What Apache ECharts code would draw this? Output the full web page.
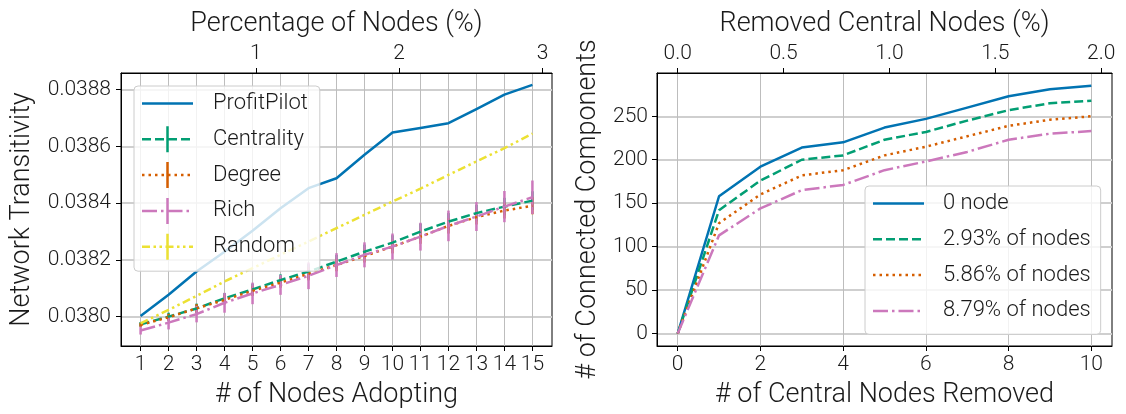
<!DOCTYPE html>
<html>
<head>
<meta charset="utf-8">
<script src="https://cdn.jsdelivr.net/npm/echarts@6/dist/echarts.min.js"></script>
<style>
  html, body { margin: 0; padding: 0; background: #fff; }
  #chart { width: 1126px; height: 414px; }
</style>
</head>
<body>
<div id="chart"></div>
<script>
// ---- Left panel: network transitivity vs. number of adopting nodes ----
const nodesAdopting = [1, 2, 3, 4, 5, 6, 7, 8, 9, 10, 11, 12, 13, 14, 15];
const profitPilot = [0.038002, 0.038077, 0.038159, 0.038229, 0.038303, 0.038382, 0.038453, 0.038488,
                     0.038571, 0.038649, 0.038665, 0.038682, 0.038732, 0.038783, 0.038817];
const centrality  = [0.037973, 0.038000, 0.038029, 0.038065, 0.038096, 0.038129, 0.038159, 0.038194,
                     0.038229, 0.038261, 0.038300, 0.038335, 0.038365, 0.038388, 0.038409];
const centralityErr = [0.000008, 0.000014, 0.000017, 0.000018, 0.000020, 0.000020, 0.000026, 0.000024,
                       0.000025, 0.000026, 0.000028, 0.000030, 0.000029, 0.000031, 0.000033];
const degree      = [0.037971, 0.037998, 0.038029, 0.038059, 0.038091, 0.038120, 0.038151, 0.038182,
                     0.038214, 0.038247, 0.038282, 0.038320, 0.038351, 0.038374, 0.038391];
const degreeErr   = [0.000007, 0.000012, 0.000015, 0.000016, 0.000018, 0.000018, 0.000023, 0.000022,
                     0.000023, 0.000024, 0.000025, 0.000027, 0.000026, 0.000028, 0.000030];
const rich        = [0.037951, 0.037979, 0.038009, 0.038049, 0.038082, 0.038112, 0.038144, 0.038182,
                     0.038218, 0.038247, 0.038282, 0.038320, 0.038353, 0.038388, 0.038421];
const richErr     = [0.000014, 0.000024, 0.000029, 0.000035, 0.000038, 0.000035, 0.000047, 0.000042,
                     0.000044, 0.000046, 0.000049, 0.000054, 0.000051, 0.000055, 0.000059];
const randomSel   = [0.037976, 0.038024, 0.038073, 0.038124, 0.038171, 0.038218, 0.038265, 0.038312,
                     0.038359, 0.038406, 0.038451, 0.038500, 0.038547, 0.038594, 0.038645];
const leftYTicks = [0.0380, 0.0382, 0.0384, 0.0386, 0.0388];
const leftTopTicks = [1, 2, 3];

// ---- Right panel: connected components vs. central nodes removed ----
const centralRemoved = [0, 1, 2, 3, 4, 5, 6, 7, 8, 9, 10];
const zeroNode = [0, 158, 192, 214, 220, 237, 247, 260, 273, 281, 285];
const pct293   = [0, 142, 176, 200, 205, 223, 232, 245, 257, 265, 268];
const pct586   = [0, 127, 160, 182, 188, 205, 215, 227, 239, 246, 250];
const pct879   = [0, 113, 144, 165, 171, 188, 198, 209, 223, 230, 233];
const rightYTicks = [0, 50, 100, 150, 200, 250];
const rightBottomTicks = [0, 2, 4, 6, 8, 10];
const rightTopTicks = [0, 0.5, 1.0, 1.5, 2.0];

const totalNodes = 512;   // share of the network per node, for the percentage axes

const C = { blue: '#0173b2', green: '#029e73', orange: '#d55e00', pink: '#cc78bc', yellow: '#ece133' };
const FONT = 'Roboto';
const TXT = '#1a1a1a';
const LW = 2.5;
const DASH = [9, 4];
const DOT = [2.5, 4];
const DASHDOT = [15, 4, 2.5, 4];
const DASHDOTDOT = [8, 3.5, 2.5, 3.5, 2.5, 3.5];

const pct = n => n * 100 / totalNodes;
const xL = [0.3, 15.7];
const xR = [-0.5, 10.5];

// Legend glyph: a dashed stroke built from small rectangles, with an optional error-bar tick.
const ICON_W = 51, BAR_H = 26;
function legendIcon(dash, withBar) {
  const y0 = withBar ? (BAR_H - LW) / 2 : 0;
  let d = '';
  if (!dash) {
    d += `M0,${y0}h${ICON_W}v${LW}h-${ICON_W}z`;
  } else {
    let x = 0, k = 0;
    while (x < ICON_W) {
      const len = Math.min(dash[k % dash.length], ICON_W - x);
      if (k % 2 === 0) d += `M${x.toFixed(2)},${y0}h${len.toFixed(2)}v${LW}h-${len.toFixed(2)}z`;
      x += len; k++;
    }
    // keep the glyph box the full icon width
    d += `M${ICON_W - 0.01},${y0}h0.01v${LW}h-0.01z`;
  }
  if (withBar) d += `M${(ICON_W - LW) / 2},0h${LW}v${BAR_H}h-${LW}z`;
  return 'path://' + d;
}

function axisLabelStyle(extra) {
  return Object.assign({ color: TXT, fontFamily: FONT, fontWeight: 300, fontSize: 21 }, extra);
}
function nameStyle() {
  return { color: TXT, fontFamily: FONT, fontWeight: 300, fontSize: 27 };
}
const frameLine = { show: true, onZero: false, lineStyle: { color: '#000', width: 1 } };
const tickOut = (vals) => ({ show: true, inside: false, length: 5, customValues: vals, lineStyle: { color: '#000', width: 1 } });
const vGrid = { show: true, lineStyle: { color: '#bdbdbd', width: 1 } };
const hGrid = { show: true, lineStyle: { color: '#cfcfcf', width: 1.8 } };

function lineSeries(name, xs, ys, color, dash, xi, yi, z) {
  return {
    type: 'line', name, xAxisIndex: xi, yAxisIndex: yi,
    data: xs.map((x, i) => [x, ys[i]]),
    symbol: 'none', showSymbol: false,
    lineStyle: { color, width: LW, type: dash || 'solid', cap: 'butt', join: 'round' },
    itemStyle: { color },
    z: z || 2, silent: true
  };
}
function errorBars(name, xs, ys, errs, color, z) {
  return {
    type: 'custom', name, xAxisIndex: 0, yAxisIndex: 0, silent: true, z: z,
    encode: { x: 0, y: [1, 2] },
    data: xs.map((x, i) => [x, ys[i] - errs[i], ys[i] + errs[i]]),
    renderItem: (params, api) => {
      const lo = api.coord([api.value(0), api.value(1)]);
      const hi = api.coord([api.value(0), api.value(2)]);
      return { type: 'line', shape: { x1: lo[0], y1: lo[1], x2: hi[0], y2: hi[1] },
               style: { stroke: color, lineWidth: LW } };
    }
  };
}

const legendBase = {
  orient: 'vertical', itemWidth: ICON_W, itemHeight: 31, itemGap: 4.8,
  symbolKeepAspect: true,
  backgroundColor: 'rgba(255,255,255,0.8)', borderColor: '#cccccc', borderWidth: 1, borderRadius: 4,
  textStyle: { color: TXT, fontFamily: FONT, fontWeight: 300, fontSize: 22, lineHeight: 31, padding: [0, 0, 0, 15] },
  itemStyle: { borderWidth: 0 },
  selectedMode: false
};

const option = {
  animation: false,
  backgroundColor: '#fff',
  grid: [
    { left: 121, top: 73, width: 431, height: 273, show: true, borderColor: '#000', borderWidth: 1, backgroundColor: 'transparent' },
    { left: 657, top: 73, width: 455, height: 273, show: true, borderColor: '#000', borderWidth: 1, backgroundColor: 'transparent' }
  ],
  xAxis: [
    { type: 'value', gridIndex: 0, position: 'bottom', min: xL[0], max: xL[1],
      name: '# of Nodes Adopting', nameLocation: 'middle', nameGap: 36, nameTextStyle: nameStyle(),
      axisLine: frameLine, axisTick: tickOut(nodesAdopting), splitLine: vGrid,
      axisLabel: axisLabelStyle({ margin: 8, customValues: nodesAdopting, formatter: v => String(Math.round(v)) }) },
    { type: 'value', gridIndex: 0, position: 'top', min: pct(xL[0]), max: pct(xL[1]),
      name: 'Percentage of Nodes (%)', nameLocation: 'middle', nameGap: 31, nameTextStyle: nameStyle(),
      axisLine: frameLine, axisTick: tickOut(leftTopTicks), splitLine: { show: false },
      axisLabel: axisLabelStyle({ margin: 9, customValues: leftTopTicks, formatter: v => String(Math.round(v)) }) },
    { type: 'value', gridIndex: 1, position: 'bottom', min: xR[0], max: xR[1],
      name: '# of Central Nodes Removed', nameLocation: 'middle', nameGap: 36, nameTextStyle: nameStyle(),
      axisLine: frameLine, axisTick: tickOut(rightBottomTicks), splitLine: vGrid,
      axisLabel: axisLabelStyle({ margin: 8, customValues: rightBottomTicks, formatter: v => String(Math.round(v)) }) },
    { type: 'value', gridIndex: 1, position: 'top', min: pct(xR[0]), max: pct(xR[1]),
      name: 'Removed Central Nodes (%)', nameLocation: 'middle', nameGap: 31, nameTextStyle: nameStyle(),
      axisLine: frameLine, axisTick: tickOut(rightTopTicks), splitLine: { show: false },
      axisLabel: axisLabelStyle({ margin: 9, customValues: rightTopTicks, formatter: v => v.toFixed(1) }) }
  ],
  yAxis: [
    { type: 'value', gridIndex: 0, min: 0.0378966, max: 0.038859,
      name: 'Network Transitivity', nameLocation: 'middle', nameGap: 85, nameTextStyle: nameStyle(),
      axisLine: frameLine, axisTick: tickOut(leftYTicks), splitLine: hGrid,
      axisLabel: axisLabelStyle({ margin: 10, customValues: leftYTicks, formatter: v => v.toFixed(4) }) },
    { type: 'value', gridIndex: 1, min: -14.3, max: 299.8,
      name: '# of Connected Components', nameLocation: 'middle', nameGap: 55, nameTextStyle: nameStyle(),
      axisLine: frameLine, axisTick: tickOut(rightYTicks), splitLine: hGrid,
      axisLabel: axisLabelStyle({ margin: 9, customValues: rightYTicks, formatter: v => String(Math.round(v)) }) }
  ],
  legend: [
    Object.assign({}, legendBase, {
      left: 134, top: 86, padding: [2, 12, 9, 8],
      data: [
        { name: 'ProfitPilot', icon: legendIcon(null, false) },
        { name: 'Centrality', icon: legendIcon(DASH, true) },
        { name: 'Degree', icon: legendIcon(DOT, true) },
        { name: 'Rich', icon: legendIcon(DASHDOT, true) },
        { name: 'Random', icon: legendIcon(DASHDOTDOT, true) }
      ]
    }),
    Object.assign({}, legendBase, {
      left: 865, top: 186, padding: [2, 10, 8, 8],
      textStyle: Object.assign({}, legendBase.textStyle, { padding: [0, 0, 0, 14] }),
      data: [
        { name: '0 node', icon: legendIcon(null, false) },
        { name: '2.93% of nodes', icon: legendIcon(DASH, false) },
        { name: '5.86% of nodes', icon: legendIcon(DOT, false) },
        { name: '8.79% of nodes', icon: legendIcon(DASHDOT, false) }
      ]
    })
  ],
  series: [
    lineSeries('ProfitPilot', nodesAdopting, profitPilot, C.blue, 'solid', 0, 0, 2),
    errorBars('Centrality error', nodesAdopting, centrality, centralityErr, C.green, 3),
    lineSeries('Centrality', nodesAdopting, centrality, C.green, DASH, 0, 0, 3),
    errorBars('Degree error', nodesAdopting, degree, degreeErr, C.orange, 3),
    lineSeries('Degree', nodesAdopting, degree, C.orange, DOT, 0, 0, 3),
    errorBars('Rich error', nodesAdopting, rich, richErr, C.pink, 3),
    lineSeries('Rich', nodesAdopting, rich, C.pink, DASHDOT, 0, 0, 3),
    lineSeries('Random', nodesAdopting, randomSel, C.yellow, DASHDOTDOT, 0, 0, 3),

    lineSeries('0 node', centralRemoved, zeroNode, C.blue, 'solid', 2, 1),
    lineSeries('2.93% of nodes', centralRemoved, pct293, C.green, DASH, 2, 1),
    lineSeries('5.86% of nodes', centralRemoved, pct586, C.orange, DOT, 2, 1),
    lineSeries('8.79% of nodes', centralRemoved, pct879, C.pink, DASHDOT, 2, 1)
  ]
};

const chart = echarts.init(document.getElementById('chart'), null, { renderer: 'canvas' });
chart.setOption(option);
</script>
</body>
</html>
